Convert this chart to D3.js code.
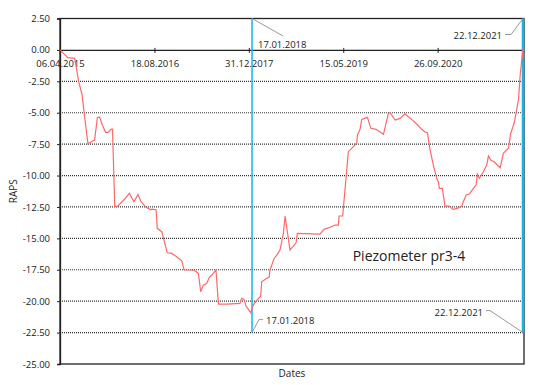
<!DOCTYPE html>
<html>
<head>
	<meta charset="utf-8">
	<title>Piezometer pr3-4</title>
	<script src="https://d3js.org/d3.v7.min.js"></script>
	<style>
		body { margin: 0; background: #fff; }
		text { font-family: "Open Sans", "Liberation Sans", sans-serif; fill: #222; }
	</style>
</head>
<body>
	<script type="text/javascript">

		// Measurement dates (dd.mm.yyyy) and RAPS values
		var dates = [
			'06.04.2015', '18.05.2015', '23.06.2015', '14.07.2015', '01.08.2015', '15.08.2015',
			'01.09.2015', '28.09.2015', '06.10.2015', '21.10.2015', '02.11.2015', '16.11.2015',
			'04.12.2015', '16.12.2015', '03.01.2016', '09.01.2016', '21.01.2016', '04.02.2016',
			'14.03.2016', '07.04.2016', '02.05.2016', '23.05.2016', '06.06.2016', '01.07.2016',
			'29.07.2016', '05.08.2016', '27.08.2016', '02.09.2016', '26.09.2016', '25.10.2016',
			'18.11.2016', '14.12.2016', '10.01.2017', '22.01.2017', '23.02.2017', '21.03.2017',
			'08.04.2017', '20.04.2017', '04.05.2017', '22.05.2017', '05.06.2017', '18.06.2017',
			'10.07.2017', '23.07.2017', '05.09.2017', '14.11.2017', '23.11.2017', '06.12.2017',
			'16.12.2017', '28.12.2017', '10.01.2018', '24.01.2018', '07.02.2018', '04.03.2018',
			'09.03.2018', '05.04.2018', '17.04.2018', '22.04.2018', '14.05.2018', '28.05.2018',
			'14.06.2018', '02.07.2018', '11.07.2018', '06.08.2018', '07.09.2018', '14.09.2018',
			'12.01.2019', '02.02.2019', '06.03.2019', '02.04.2019', '19.04.2019', '23.04.2019',
			'12.05.2019', '11.06.2019', '08.07.2019', '26.07.2019', '29.07.2019', '12.08.2019',
			'21.08.2019', '20.09.2019', '08.10.2019', '05.11.2019', '14.12.2019', '09.01.2020',
			'18.01.2020', '14.02.2020', '11.03.2020', '06.04.2020', '24.04.2020', '12.05.2020',
			'07.06.2020', '04.07.2020', '21.07.2020', '03.08.2020', '17.08.2020', '03.09.2020',
			'21.09.2020', '30.09.2020', '05.10.2020', '21.10.2020', '04.11.2020', '27.11.2020',
			'15.12.2020', '08.01.2021', '01.02.2021', '09.02.2021', '24.02.2021', '13.03.2021',
			'03.04.2021', '18.04.2021', '24.04.2021', '05.05.2021', '26.05.2021', '13.06.2021',
			'22.06.2021', '04.07.2021', '22.07.2021', '08.08.2021', '23.08.2021', '09.09.2021',
			'06.10.2021', '18.10.2021', '05.11.2021', '15.11.2021', '28.11.2021', '07.12.2021',
			'22.12.2021'
		];

		var raps = [
			0.00, -0.62, -0.67, -2.53, -3.60, -5.40,
			-7.47, -7.23, -7.20, -5.40, -5.34, -5.98,
			-6.56, -6.56, -6.30, -6.30, -12.45, -12.45,
			-11.87, -11.42, -12.08, -11.50, -12.03, -12.48,
			-12.72, -12.67, -12.72, -14.20, -14.47, -16.15,
			-16.20, -16.47, -16.78, -17.52, -17.52, -17.58,
			-17.79, -19.25, -18.72, -18.58, -18.10, -17.92,
			-17.52, -20.23, -20.23, -20.18, -19.78, -19.86,
			-20.39, -20.63, -20.92, -20.31, -20.00, -19.60,
			-18.46, -18.18, -18.10, -17.52, -16.60, -16.33,
			-15.93, -14.60, -13.22, -15.93, -15.35, -14.60,
			-14.66, -14.28, -14.12, -13.94, -13.94, -13.22,
			-13.22, -8.10, -7.70, -7.39, -6.78, -6.32,
			-5.53, -5.37, -6.24, -6.32, -6.72, -5.05,
			-5.00, -5.58, -5.45, -5.09, -5.32, -5.53,
			-5.90, -6.32, -6.54, -6.59, -7.97, -9.16,
			-10.22, -10.49, -11.02, -11.02, -12.43, -12.43,
			-12.69, -12.61, -12.43, -12.08, -11.55, -11.47,
			-11.02, -10.76, -9.88, -10.22, -9.70, -9.16,
			-8.45, -8.77, -8.90, -9.16, -9.38, -8.23,
			-7.83, -6.64, -5.84, -5.05, -3.96, -2.00,
			0.10
		];

		// Axis settings
		var startDate = '06.04.2015';
		var endDate = '22.12.2021';
		var tickStepDays = 500;
		var yTicks = [2.5, 0, -2.5, -5, -7.5, -10, -12.5, -15, -17.5, -20, -22.5, -25];
		var gridValues = [-2.5, -5, -7.5, -10, -12.5, -15, -17.5, -20, -22.5];

		// Marker lines
		var markers = ['17.01.2018', '22.12.2021'];
		var markerBottom = -22.5;

		var parseDate = d3.timeParse('%d.%m.%Y');
		var formatDate = d3.timeFormat('%d.%m.%Y');

		var width = 550, height = 385;
		var plot = { left: 60, top: 18.5, right: 524, bottom: 364 };

		var x = d3.scaleTime()
				  .domain([parseDate(startDate), parseDate(endDate)])
				  .range([plot.left, plot.right - 1]);

		var y = d3.scaleLinear()
				  .domain([-25, 2.5])
				  .range([plot.bottom, plot.top]);

		var series = dates.map(function(d, i) {
			return { date: parseDate(d), value: raps[i] };
		});

		var svg = d3.select('body')
					.append('svg')
					.attr('width', width)
					.attr('height', height);

		// Dotted grid lines
		svg.append('g')
		   .selectAll('line')
		   .data(gridValues)
		   .enter()
		   .append('line')
		   .attr('x1', plot.left)
		   .attr('x2', plot.right)
		   .attr('y1', function(d) { return y(d); })
		   .attr('y2', function(d) { return y(d); })
		   .attr('stroke', '#333')
		   .attr('stroke-width', 1.2)
		   .attr('stroke-dasharray', '1,1');

		// Plot frame
		svg.append('rect')
		   .attr('x', plot.left)
		   .attr('y', plot.top)
		   .attr('width', plot.right - plot.left)
		   .attr('height', plot.bottom - plot.top)
		   .attr('fill', 'none')
		   .attr('stroke', '#222')
		   .attr('stroke-width', 1.3);

		// Y axis
		var yAxis = d3.axisLeft(y)
					  .tickValues(yTicks)
					  .tickSize(3)
					  .tickPadding(7)
					  .tickFormat(function(d) { return d.toFixed(2); });

		var gy = svg.append('g')
					.attr('transform', 'translate(' + plot.left + ',0)')
					.call(yAxis);
		gy.select('.domain').attr('stroke', '#222').attr('stroke-width', 1.3);
		gy.selectAll('.tick line').attr('stroke', '#222');
		gy.selectAll('text')
		  .attr('font-family', '"Open Sans", sans-serif')
		  .attr('font-size', 9.5)
		  .attr('fill', '#222');

		// X axis on the zero line
		var xTickValues = [];
		for (var i = 0; i <= 4; i++) {
			xTickValues.push(d3.timeDay.offset(parseDate(startDate), i * tickStepDays));
		}

		var xAxis = d3.axisBottom(x)
					  .tickValues(xTickValues)
					  .tickSize(3)
					  .tickPadding(7)
					  .tickFormat(formatDate);

		var gx = svg.append('g')
					.attr('transform', 'translate(0,' + y(0) + ')')
					.call(xAxis);
		gx.select('.domain').attr('stroke', '#222').attr('stroke-width', 1.3);
		gx.selectAll('.tick line').attr('stroke', '#222').attr('y1', -2);
		gx.selectAll('text')
		  .attr('font-family', '"Open Sans", sans-serif')
		  .attr('font-size', 9.5)
		  .attr('fill', '#222');

		// Blue marker lines
		svg.append('g')
		   .selectAll('line')
		   .data(markers)
		   .enter()
		   .append('line')
		   .attr('x1', function(d) { return x(parseDate(d)); })
		   .attr('x2', function(d) { return x(parseDate(d)); })
		   .attr('y1', plot.top)
		   .attr('y2', y(markerBottom))
		   .attr('stroke', '#12b4ea')
		   .attr('stroke-width', function(d, i) { return i == 1 ? 2.5 : 1.5; });

		// Data line
		var line = d3.line()
					 .x(function(d) { return x(d.date); })
					 .y(function(d) { return y(d.value); });

		svg.append('path')
		   .datum(series)
		   .attr('d', line)
		   .attr('fill', 'none')
		   .attr('stroke', '#ff6868')
		   .attr('stroke-width', 1.2);

		// Marker labels with leader lines
		var m0 = x(parseDate(markers[0])), m1 = x(parseDate(markers[1]));
		var yb = y(markerBottom);

		var leaders = [
			[[m0, plot.top], [m0 + 31, plot.top + 17.5]],
			[[m1, plot.top], [m1 - 12, plot.top + 16], [m1 - 18, plot.top + 16]],
			[[m0, yb], [m0 + 7, yb - 13], [m0 + 11, yb - 13]],
			[[m1, yb], [m1 - 33, yb - 22], [m1 - 37, yb - 22]]
		];

		svg.append('g')
		   .selectAll('path')
		   .data(leaders)
		   .enter()
		   .append('path')
		   .attr('d', d3.line())
		   .attr('fill', 'none')
		   .attr('stroke', '#999')
		   .attr('stroke-width', 1);

		var labels = [
			{ text: markers[0], x: m0 + 6, y: plot.top + 29, anchor: 'start' },
			{ text: markers[1], x: m1 - 21, y: plot.top + 20, anchor: 'end' },
			{ text: markers[0], x: m0 + 14, y: yb - 9, anchor: 'start' },
			{ text: markers[1], x: m1 - 40, y: yb - 17, anchor: 'end' }
		];

		svg.append('g')
		   .selectAll('text')
		   .data(labels)
		   .enter()
		   .append('text')
		   .attr('x', function(d) { return d.x; })
		   .attr('y', function(d) { return d.y; })
		   .attr('text-anchor', function(d) { return d.anchor; })
		   .attr('font-size', 9.5)
		   .text(function(d) { return d.text; });

		// Chart caption
		svg.append('text')
		   .attr('x', 409)
		   .attr('y', 261)
		   .attr('text-anchor', 'middle')
		   .attr('font-size', 14)
		   .text('Piezometer pr3-4');

		// Axis titles
		svg.append('text')
		   .attr('x', (plot.left + plot.right) / 2)
		   .attr('y', 377)
		   .attr('text-anchor', 'middle')
		   .attr('font-size', 10)
		   .text('Dates');

		svg.append('text')
		   .attr('transform', 'translate(17,' + ((plot.top + plot.bottom) / 2) + ') rotate(-90)')
		   .attr('text-anchor', 'middle')
		   .attr('font-size', 10)
		   .text('RAPS');

	</script>
</body>
</html>
